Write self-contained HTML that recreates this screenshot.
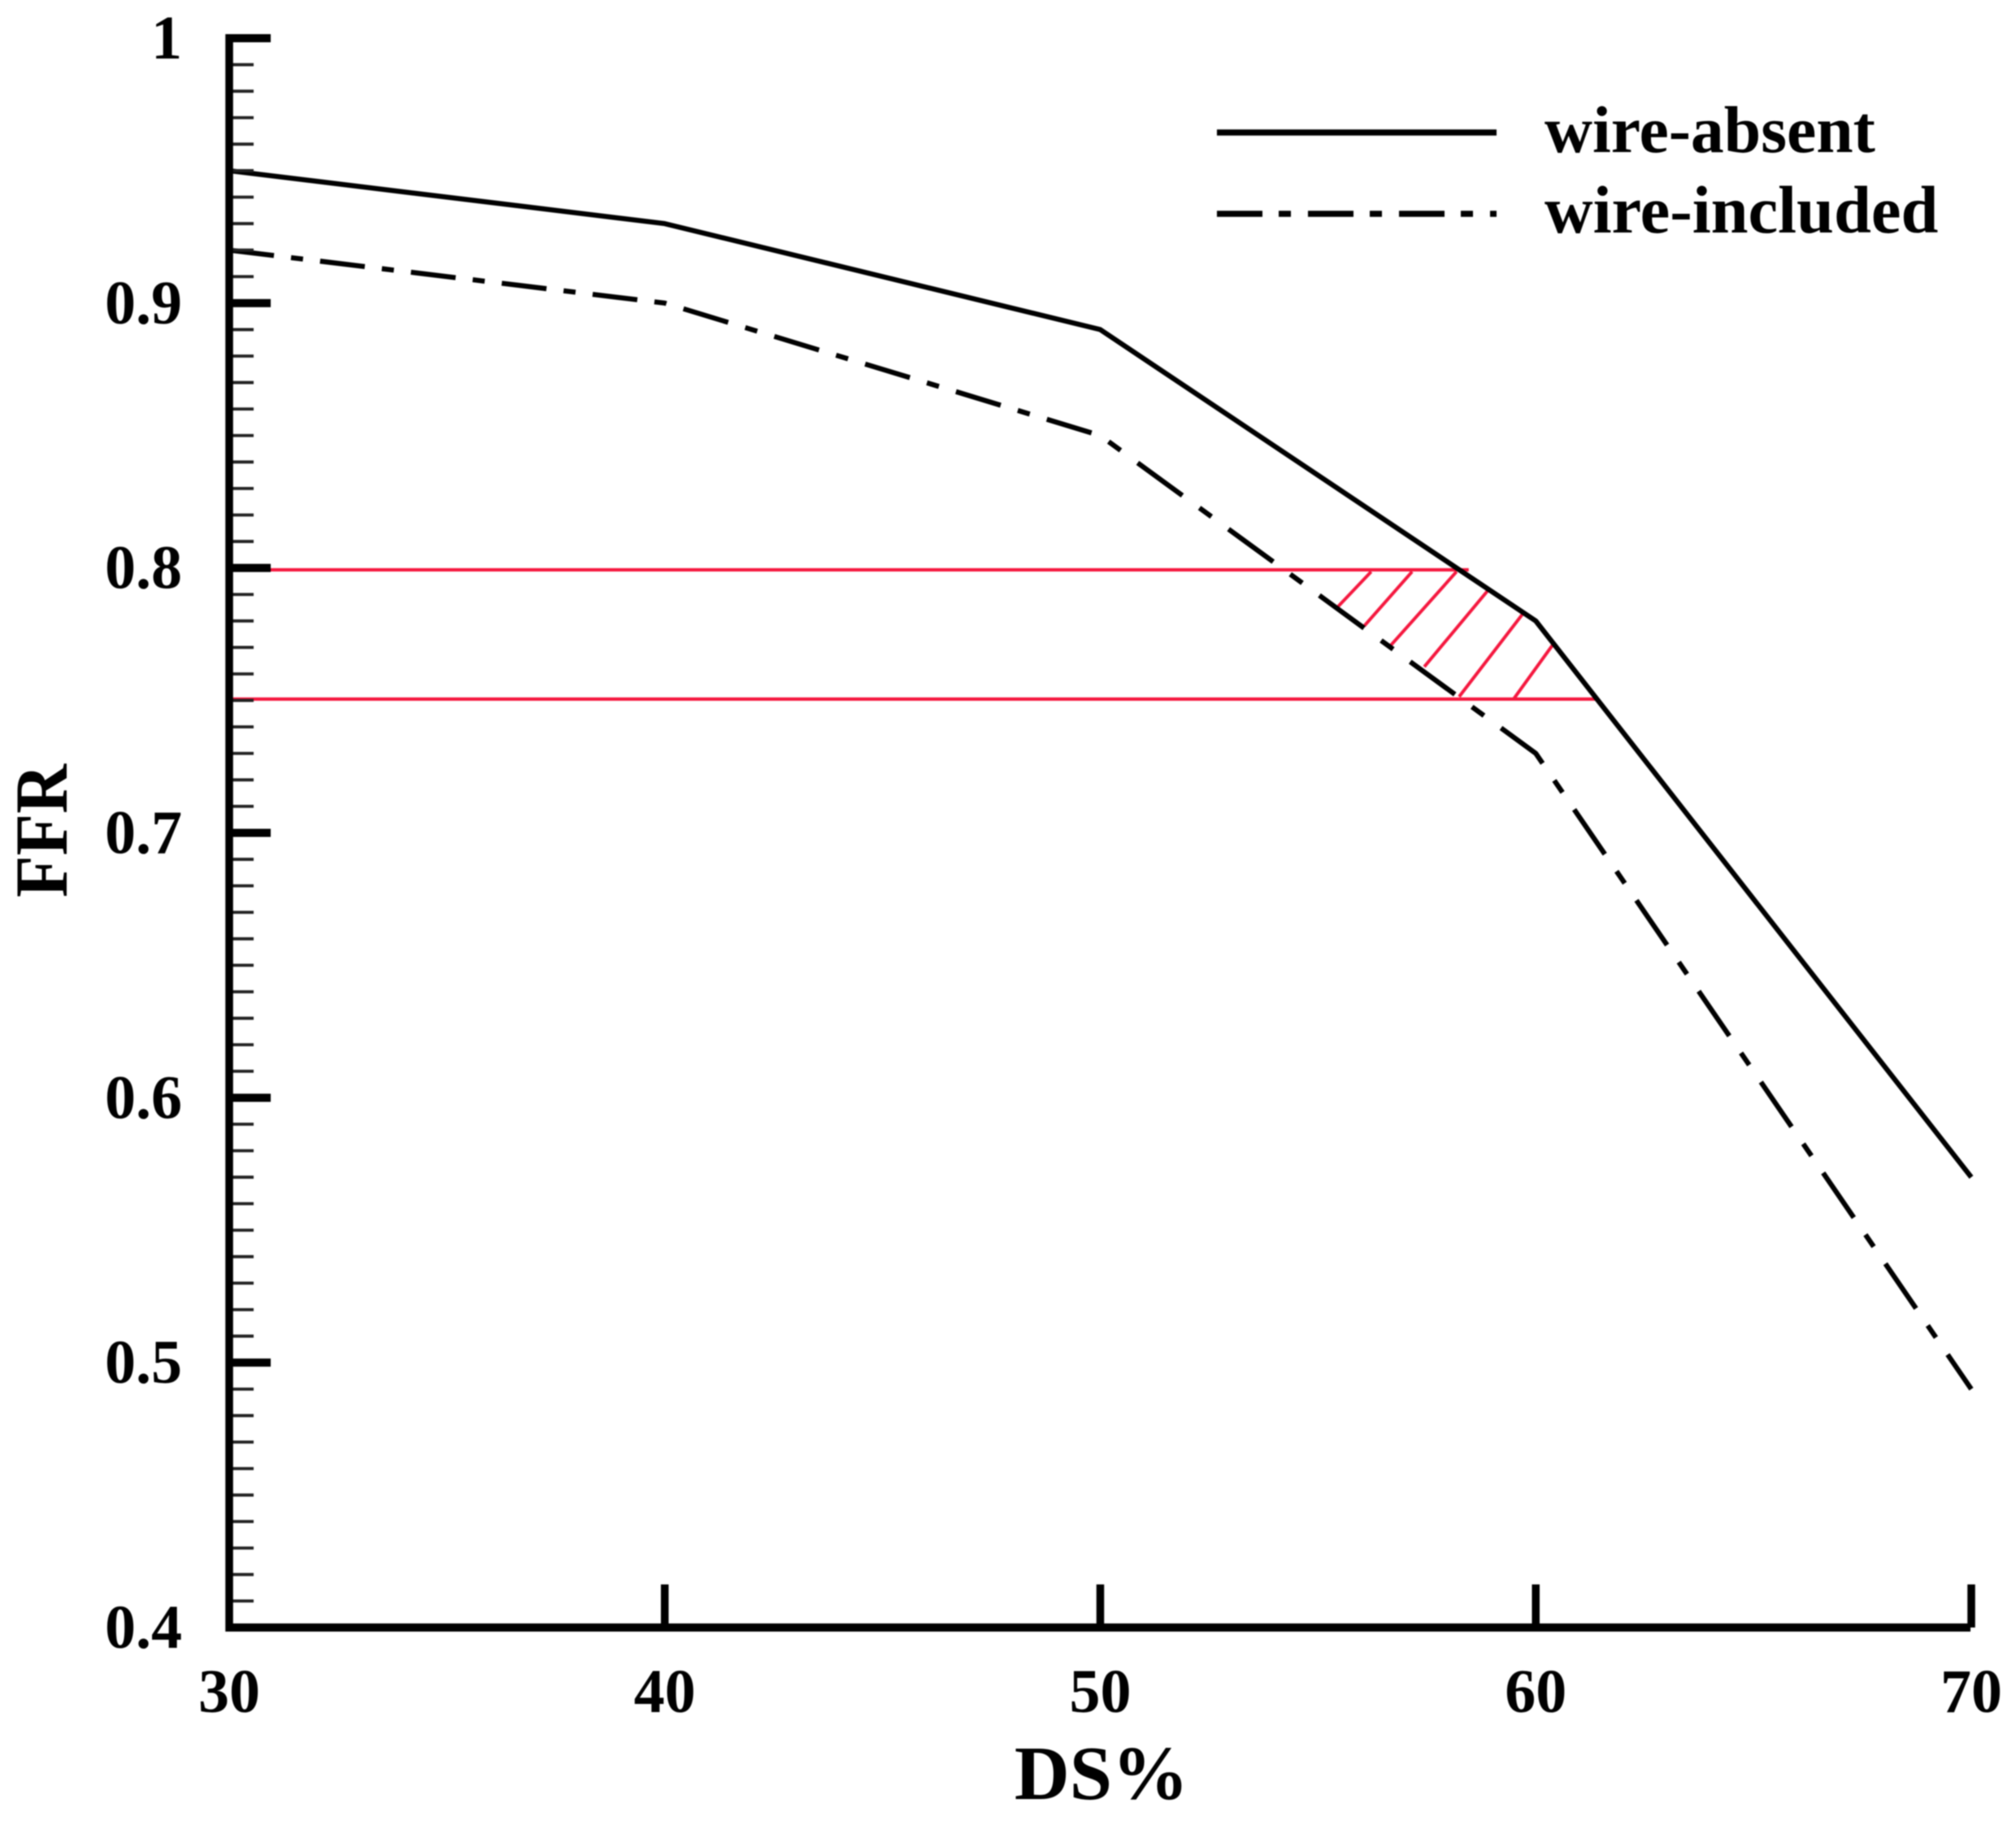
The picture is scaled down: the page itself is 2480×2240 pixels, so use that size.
<!DOCTYPE html>
<html lang="en">
<head>
<meta charset="utf-8">
<title>FFR vs DS%</title>
<style>
html,body{margin:0;padding:0;background:#fff;width:2480px;height:2240px;overflow:hidden}
svg{display:block;filter:blur(0.8px)}
text{font-family:"Liberation Serif",serif;font-weight:bold;fill:#000}
</style>
</head>
<body>
<svg id="chart" xmlns="http://www.w3.org/2000/svg" width="2480" height="2240" viewBox="0 0 2480 2240">
  <rect x="0" y="0" width="2480" height="2240" fill="#fff"/>
  <g id="refs"></g>
  <g id="series"></g>
  <g id="axes"></g>
  <g id="labels"></g>
  <text x="1355" y="2213" font-size="94" text-anchor="middle">DS%</text>
  <text transform="translate(82,1022) rotate(-90)" font-size="92" text-anchor="middle" textLength="164" lengthAdjust="spacingAndGlyphs">FFR</text>
  <g>
    <line x1="1497" y1="163" x2="1841" y2="163" stroke="#000" stroke-width="7.5"/>
    <text x="1900" y="187" font-size="81.7">wire-absent</text>
    <line x1="1497" y1="263" x2="1841" y2="263" stroke="#000" stroke-width="7.5" stroke-dasharray="56 20 15 21"/>
    <text x="1900" y="286" font-size="82.5">wire-included</text>
  </g>
</svg>
<script>
const dsValues = [30, 40, 50, 60, 70];
const wireAbsent = [0.95, 0.93, 0.89, 0.78, 0.57];
const wireIncluded = [0.92, 0.90, 0.85, 0.73, 0.49];
const xTickValues = [30, 40, 50, 60, 70];
const xTickLabels = ["30", "40", "50", "60", "70"];
const yTickValues = [1, 0.9, 0.8, 0.7, 0.6, 0.5, 0.4];
const yTickLabels = ["1", "0.9", "0.8", "0.7", "0.6", "0.5", "0.4"];
const refLevels = [0.7993, 0.7505];
const refEndDs = [58.46, 61.45];
const hatchTopDs = [56.22, 57.16, 58.18, 58.89, 59.73, 60.39];
const hatchTopFfr = [0.7986, 0.7986, 0.7986, 0.7913, 0.7833, 0.7710];
const hatchBottomDs = [55.44, 56.06, 56.65, 57.44, 58.24, 59.49];
const hatchBottomFfr = [0.7851, 0.7781, 0.7704, 0.7627, 0.7514, 0.7505];

const NS = "http://www.w3.org/2000/svg";
function xScale(v) { return 282 + (v - 30) * 53.575; }
function yScale(v) { return 47 + (1 - v) * 3258.3; }
function mk(tag, parent, attrs) {
  const el = document.createElementNS(NS, tag);
  for (const k in attrs) el.setAttribute(k, attrs[k]);
  parent.appendChild(el);
  return el;
}
const axes = document.getElementById("axes");
const labels = document.getElementById("labels");
const refs = document.getElementById("refs");
const series = document.getElementById("series");

// dash walker: the source plot measures its dash pattern along the dominant axis
function dashedPath(pts, pattern) {
  let d = "", idx = 0, left = pattern[0], on = true;
  d += "M" + pts[0][0] + " " + pts[0][1];
  for (let i = 1; i < pts.length; i++) {
    const a = pts[i - 1], b = pts[i];
    const dx = b[0] - a[0], dy = b[1] - a[1];
    const len = Math.max(Math.abs(dx), Math.abs(dy));
    let pos = 0;
    while (len - pos > left) {
      pos += left;
      const x = a[0] + dx * pos / len, y = a[1] + dy * pos / len;
      d += (on ? "L" : "M") + x.toFixed(2) + " " + y.toFixed(2);
      on = !on;
      idx = (idx + 1) % pattern.length;
      left = pattern[idx];
    }
    left -= len - pos;
    if (on) d += "L" + b[0].toFixed(2) + " " + b[1].toFixed(2);
    else d += "M" + b[0].toFixed(2) + " " + b[1].toFixed(2);
  }
  return d;
}

// reference lines
refLevels.forEach(function (lv, i) {
  const el = mk("line", refs, { x1: 282, x2: xScale(refEndDs[i]), y1: yScale(lv), y2: yScale(lv), stroke: "#f5183f", "stroke-width": 4.2 });
  
  
});
// hatch
hatchTopDs.forEach(function (ds, i) {
  const el = mk("line", refs, { x1: xScale(ds), y1: yScale(hatchTopFfr[i]), x2: xScale(hatchBottomDs[i]), y2: yScale(hatchBottomFfr[i]), stroke: "#f5183f", "stroke-width": 4 });
  
  
});

// series
const absentPts = dsValues.map(function (v, i) { return [xScale(v), yScale(wireAbsent[i])]; });
const includedPts = dsValues.map(function (v, i) { return [xScale(v), yScale(wireIncluded[i])]; });
const absentLine = mk("path", series, { d: "M" + absentPts.map(function (p) { return p.join(" "); }).join("L"), fill: "none", stroke: "#000", "stroke-width": 6.2, "stroke-linejoin": "round" });


const includedLine = mk("path", series, { d: dashedPath(includedPts, [55, 21, 14.75, 21]), fill: "none", stroke: "#000", "stroke-width": 6.2, "stroke-linejoin": "round" });



// minor y ticks
for (let k = 0; k <= 60; k++) {
  if (k % 10 === 0) continue;
  const y = yScale(0.4 + k * 0.01);
  const el = mk("line", axes, { x1: 282, x2: 312, y1: y, y2: y, stroke: "#222", "stroke-width": 3.8 });
  
  
}
// major y ticks + labels
yTickValues.forEach(function (v, i) {
  const y = yScale(v);
  if (v !== 0.4) {
    const el = mk("line", axes, { x1: 277.5, x2: 333, y1: y, y2: y, stroke: "#000", "stroke-width": 10 });
    
    
  }
  const t = mk("text", labels, { x: 224, y: y + 25, "font-size": 76, "text-anchor": "end" });
  t.textContent = yTickLabels[i];
  
  
});
// x ticks + labels
xTickValues.forEach(function (v, i) {
  const x = xScale(v);
  if (v !== 30) {
    const el = mk("line", axes, { x1: x, x2: x, y1: 1949, y2: 2002, stroke: "#000", "stroke-width": 9.5 });
    
    
  }
  const t = mk("text", labels, { x: x, y: 2106, "font-size": 76, "text-anchor": "middle" });
  t.textContent = xTickLabels[i];
  
  
});
// axis lines
const yAxis = mk("line", axes, { x1: 282, x2: 282, y1: 42, y2: 2007, stroke: "#000", "stroke-width": 9.5 });


const xAxis = mk("line", axes, { x1: 277.5, x2: 2424, y1: 2002, y2: 2002, stroke: "#000", "stroke-width": 10 });


</script>
</body>
</html>
